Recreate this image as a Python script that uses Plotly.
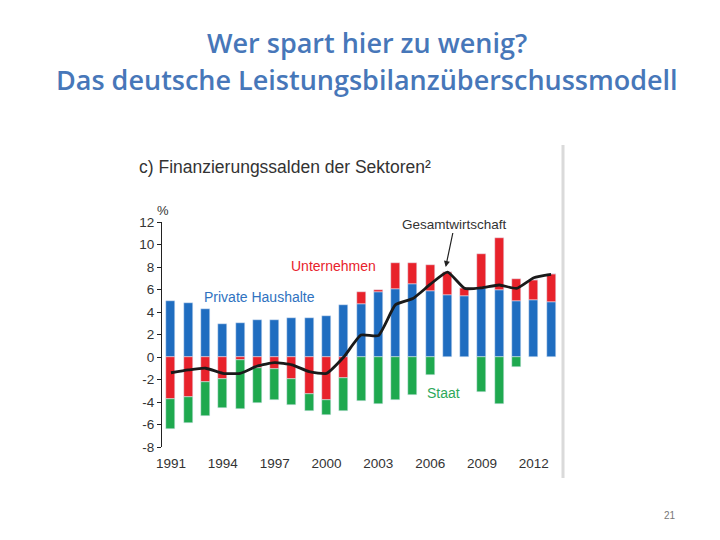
import plotly.graph_objects as go

years = list(range(1991, 2014))
haushalte = [5.0, 4.8, 4.3, 2.9, 3.05, 3.25, 3.25, 3.45, 3.45, 3.67, 4.6,
             4.7, 5.8, 6.05, 6.45, 5.85, 5.55, 5.45, 6.15, 5.95, 5.0, 5.1, 4.9]
unternehmen = [-3.7, -3.55, -2.2, -1.95, -0.3, -1.0, -1.1, -1.95, -3.25, -3.85, -1.85,
               1.1, 0.2, 2.35, 1.95, 2.3, 2.0, 0.65, 3.05, 4.6, 1.9, 1.75, 2.45]
staat = [-2.7, -2.35, -3.0, -2.55, -4.3, -3.1, -2.7, -2.3, -1.55, -1.3, -2.95,
         -3.9, -4.15, -3.8, -3.35, -1.6, 0.0, 0.0, -3.1, -4.2, -0.85, 0.0, 0.0]
gesamt = [-1.4, -1.15, -1.0, -1.45, -1.45, -0.8, -0.5, -0.7, -1.3, -1.45, 0.0,
          1.95, 1.9, 4.65, 5.2, 6.45, 7.55, 6.1, 6.15, 6.4, 6.1, 7.05, 7.35]
tick_years = [1991, 1994, 1997, 2000, 2003, 2006, 2009, 2012]
sep_ticks = [1993.5, 1996.5, 1999.5, 2002.5, 2005.5, 2008.5, 2011.5]
y_ticks = [12, 10, 8, 6, 4, 2, 0, -2, -4, -6, -8]
y_tick_text = ["12", "10", "8", "6", "4", "2", "0", "-2", "-4", "-6", "-8"]

BLUE = "#1F6DC0"
RED = "#E8222B"
GREEN = "#1FA94F"
TXT = "#333333"
TITLE = "#4777B9"
xr = [1990.48, 2013.4]

# page offset (body margin) compensation
OFF = 8
L, R, T, B = 162 - OFF, 720 - (558 - OFF), 222 - OFF, 540 - (447 - OFF)
W, H = 720 - L - R, 540 - T - B


def px(x):
    return (x - OFF - L) / W


def py(y):
    return (540 - B - (y - OFF)) / H


fig = go.Figure()
fig.add_bar(x=years, y=haushalte, marker_color=BLUE, width=0.52, name="Private Haushalte")
fig.add_bar(x=years, y=unternehmen, marker_color=RED, width=0.52, name="Unternehmen")
fig.add_bar(x=years, y=staat, marker_color=GREEN, width=0.52, name="Staat")
fig.add_scatter(x=years, y=gesamt, mode="lines",
                line=dict(color="#1a1a1a", width=2.8, shape="spline", smoothing=0.5),
                name="Gesamtwirtschaft")

fig.update_layout(
    width=720, height=540, barmode="relative", bargap=0, showlegend=False,
    paper_bgcolor="white", plot_bgcolor="white",
    margin=dict(l=L, r=R, t=T, b=B),
    font=dict(family="Liberation Sans, Arial, sans-serif", size=13, color=TXT),
    xaxis=dict(range=xr, tickvals=tick_years, ticktext=[str(y) for y in tick_years],
               showgrid=False, zeroline=False, showline=False, ticks="",
               ticklabelstandoff=6, tickfont=dict(size=13.5, color=TXT)),
    xaxis2=dict(range=xr, overlaying="x", anchor="free", position=0.4, showline=True,
                linecolor="#222", linewidth=1.2, ticks="outside", ticklen=4, tickcolor="#222",
                tickvals=sep_ticks, showticklabels=False, showgrid=False, zeroline=False),
    yaxis=dict(range=[-8, 12], tickvals=y_ticks, ticktext=y_tick_text, showgrid=False, zeroline=False,
               showline=True, linecolor="#222", linewidth=1.2, ticks="outside", ticklen=4,
               tickcolor="#222", tickfont=dict(size=13.5, color=TXT)),
)

fig.add_annotation(x=px(367), y=py(42), xref="paper", yref="paper", text="Wer spart hier zu wenig?",
                   showarrow=False, font=dict(family="Open Sans", size=27, color=TITLE, weight=600),
                   xanchor="center", yanchor="middle")
fig.add_annotation(x=px(367), y=py(80), xref="paper", yref="paper",
                   text="Das deutsche Leistungsbilanzüberschussmodell",
                   showarrow=False, font=dict(family="Open Sans", size=27, color=TITLE, weight=600),
                   xanchor="center", yanchor="middle")
fig.add_annotation(x=px(137), y=py(167), xref="paper", yref="paper",
                   text="c) Finanzierungssalden der Sektoren²", showarrow=False,
                   font=dict(size=17.5, color=TXT), xanchor="left", yanchor="middle")
fig.add_annotation(x=px(163), y=py(211), xref="paper", yref="paper", text="%", showarrow=False,
                   font=dict(size=13, color=TXT), xanchor="center", yanchor="middle")
fig.add_annotation(x=1992.8, y=5.35, text="Private Haushalte", showarrow=False, xanchor="left",
                   font=dict(size=14, color="#2F72C0"))
fig.add_annotation(x=1997.85, y=8.05, text="Unternehmen", showarrow=False, xanchor="left",
                   font=dict(size=14, color=RED))
fig.add_annotation(x=2005.7, y=-3.2, text="Staat", showarrow=False, xanchor="left",
                   font=dict(size=14, color="#2DA85A"))
fig.add_annotation(x=2006.9, y=8.0, text="Gesamtwirtschaft", showarrow=True, ax=9, ay=-43,
                   arrowhead=2, arrowsize=1, arrowwidth=1.2, arrowcolor="#222",
                   font=dict(size=13.5, color=TXT))
fig.add_annotation(x=px(670), y=py(515), xref="paper", yref="paper", text="21",
                   showarrow=False, font=dict(size=10, color="#777"), xanchor="center", yanchor="middle")
fig.add_shape(type="line", xref="paper", yref="paper", x0=px(563), x1=px(563),
              y0=py(145), y1=py(478), line=dict(color="#DADADA", width=3))

fig.write_html("out.html")
